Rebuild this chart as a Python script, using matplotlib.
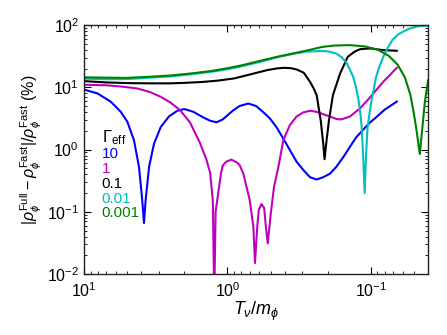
import matplotlib
matplotlib.use("Agg")
import matplotlib.pyplot as plt
from matplotlib.ticker import LogLocator, NullFormatter

plt.rcParams['font.family'] = ['Liberation Sans', 'DejaVu Sans']
plt.rcParams['mathtext.fontset'] = 'custom'
plt.rcParams['mathtext.rm'] = 'Liberation Sans'
plt.rcParams['mathtext.it'] = 'Liberation Sans:italic'
plt.rcParams['mathtext.bf'] = 'Liberation Sans:bold'

# ---- data (T_nu/m_phi, percent difference) ----
gamma_labels = ['10', '1', '0.1', '0.01', '0.001']
colors = ['#0000ff', '#bf00bf', '#000000', '#00bfbf', '#008000']

x_g10 = [10, 8.07, 6.52, 5.55, 4.99, 4.49, 4.14, 3.93, 3.82, 3.72, 3.52, 3.25,
         2.92, 2.56, 2.24, 2.0, 1.73, 1.48, 1.32, 1.19, 1.08, 0.92, 0.825, 0.716,
         0.63, 0.55, 0.506, 0.456, 0.408, 0.367, 0.33, 0.296, 0.266, 0.239,
         0.215, 0.193, 0.174, 0.155, 0.14, 0.126, 0.114, 0.102, 0.092, 0.08, 0.066]
y_g10 = [9.2, 8.0, 5.9, 4.05, 2.8, 1.42, 0.53, 0.155, 0.066, 0.155, 0.53, 1.25,
         2.3, 3.4, 4.2, 4.48, 4.05, 3.3, 2.9, 2.75, 3.05, 4.2, 5.0, 5.5,
         5.0, 3.8, 3.16, 2.3, 1.5, 0.98, 0.64, 0.47, 0.36, 0.33,
         0.36, 0.41, 0.53, 0.77, 1.11, 1.6, 2.05, 2.7, 3.3, 4.4, 5.9]

x_g1 = [10, 7, 5.5, 4.26, 3.47, 2.9, 2.5, 2.14, 1.82, 1.56, 1.40, 1.32, 1.265,
        1.237, 1.21, 1.16, 1.11, 1.08, 1.02, 0.94, 0.86, 0.825, 0.775, 0.70,
        0.66, 0.643, 0.62, 0.605, 0.58, 0.555, 0.54, 0.524, 0.50, 0.474, 0.44,
        0.408, 0.367, 0.33, 0.296, 0.266, 0.239, 0.215, 0.193, 0.174, 0.161,
        0.14, 0.119, 0.102, 0.082, 0.066]
y_g1 = [11.0, 10.8, 10.3, 9.6, 8.4, 7.0, 5.7, 4.3, 2.7, 1.3, 0.68, 0.42, 0.15,
        0.004, 0.1, 0.2, 0.41, 0.55, 0.64, 0.69, 0.62, 0.57, 0.41, 0.155,
        0.058, 0.015, 0.058, 0.107, 0.133, 0.115, 0.058, 0.031, 0.09, 0.25, 0.55,
        1.42, 2.48, 3.4, 3.96, 4.2, 4.05, 3.7, 3.4, 3.1, 3.05,
        3.4, 4.6, 6.8, 12.3, 20.6]

x_g01 = [10, 7, 5, 3.5, 2.5, 2.0, 1.5, 1.18, 0.9, 0.69, 0.53, 0.45, 0.40, 0.36,
         0.33, 0.294, 0.266, 0.25, 0.239, 0.224, 0.215, 0.2105, 0.205, 0.196,
         0.184, 0.164, 0.145, 0.13, 0.119, 0.102, 0.082, 0.066]
y_g01 = [12.6, 12.0, 11.7, 11.6, 11.6, 11.8, 12.2, 12.8, 13.9, 16.2, 18.9, 20.2,
         20.6, 20.3, 19.4, 17.2, 12.3, 9.5, 7.5, 2.98, 1.25, 0.7, 1.25, 2.98,
         7.5, 16.7, 31, 37.5, 41, 42.3, 39.7, 38.7]

x_g001 = [10, 7, 5, 3.5, 2.5, 1.8, 1.3, 1.0, 0.8, 0.6, 0.45, 0.35, 0.28, 0.23,
          0.2, 0.175, 0.16, 0.147, 0.133, 0.127, 0.122, 0.118, 0.116, 0.1135,
          0.1106, 0.108, 0.1055, 0.102, 0.099, 0.095, 0.092, 0.087, 0.082, 0.076,
          0.071, 0.065, 0.06, 0.055, 0.051, 0.047, 0.0435, 0.0401]
y_g001 = [13.8, 13.5, 13.6, 14.3, 15.0, 16.2, 17.8, 19.5, 21.8, 25.5, 30.5, 34.5,
          37.5, 38.3, 38, 35, 30.5, 24.2, 14.8, 10, 6.24, 3.5, 2.3, 0.87,
          0.2, 0.87, 2.3, 4.0, 6.24, 10, 14.8, 22, 31, 44,
          57.4, 70, 78, 86, 92, 95.5, 97.5, 98]

x_g0001 = [10, 7, 5, 3.5, 2.5, 1.8, 1.3, 1.0, 0.8, 0.6, 0.45, 0.35, 0.28, 0.22,
           0.18, 0.14, 0.11, 0.09, 0.075, 0.065, 0.058, 0.053, 0.05, 0.048,
           0.0465, 0.0456, 0.0448, 0.044, 0.043, 0.042, 0.0405, 0.0400]
y_g0001 = [14.5, 14.3, 14.2, 14.8, 15.5, 16.7, 18.3, 20.3, 22.5, 26.5, 31, 35,
           39, 44.5, 47, 47.7, 45.5, 40.5, 32, 23, 14.5, 7.5, 3.6, 2.0,
           1.15, 0.85, 1.3, 2.0, 3.5, 6.0, 10.5, 13]

series = [(x_g10, y_g10), (x_g1, y_g1), (x_g01, y_g01), (x_g001, y_g001), (x_g0001, y_g0001)]

fig = plt.figure(figsize=(4.47, 3.35), dpi=100)
ax = fig.add_axes([0.188, 0.182, 0.7695, 0.743])

for (xs, ys), c in zip(series, colors):
    ax.plot(xs, ys, color=c, lw=1.5)

ax.set_xscale('log')
ax.set_yscale('log')
ax.set_xlim(10, 0.04)
ax.set_ylim(1e-2, 1e2)

ax.xaxis.set_major_locator(LogLocator(base=10, numticks=10))
ax.yaxis.set_major_locator(LogLocator(base=10, numticks=10))
ax.xaxis.set_minor_locator(LogLocator(base=10, subs=range(2, 10), numticks=20))
ax.yaxis.set_minor_locator(LogLocator(base=10, subs=range(2, 10), numticks=20))
ax.xaxis.set_minor_formatter(NullFormatter())
ax.yaxis.set_minor_formatter(NullFormatter())

ax.tick_params(which='both', direction='in', top=True, right=True, labelsize=11.5)
ax.tick_params(axis='x', pad=5)
ax.tick_params(which='major', length=5, width=0.8)
ax.tick_params(which='minor', length=2.5, width=0.6)
for s in ax.spines.values():
    s.set_linewidth(1.0)
    s.set_color('#222222')

ax.set_xlabel(r'$T_\nu/m_\phi$', fontsize=13, labelpad=0)
ax.set_ylabel(r'$|\rho_\phi^{\rm Full}-\rho_\phi^{\rm Fast}|/\rho_\phi^{\rm Fast}$ (%)',
              fontsize=11.5, labelpad=2)

ax.text(0.051, 0.548, r'$\Gamma_{\rm eff}$', transform=ax.transAxes, fontsize=12,
        color='k', va='center', ha='left')
ypos = [0.482, 0.422, 0.361, 0.301, 0.245]
for lab, c, yy in zip(gamma_labels, colors, ypos):
    ax.text(0.051, yy, lab, transform=ax.transAxes, fontsize=11, color=c,
            va='center', ha='left')

fig.savefig('out.png', dpi=100)
